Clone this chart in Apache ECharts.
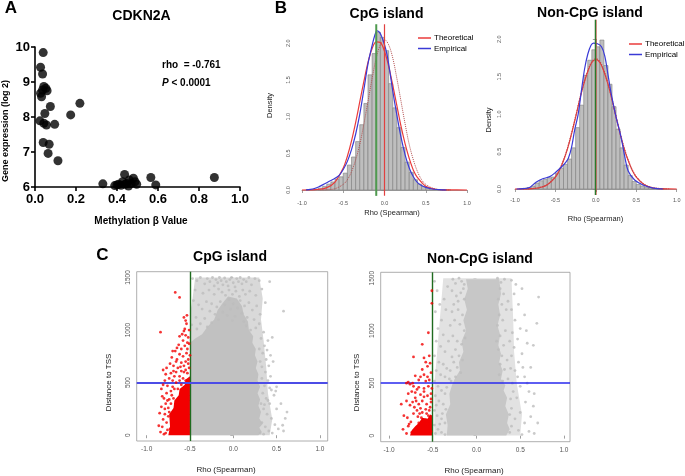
<!DOCTYPE html>
<html><head><meta charset="utf-8">
<script src="https://cdn.jsdelivr.net/npm/echarts@6/dist/echarts.min.js"></script>
<style>html,body{margin:0;padding:0;background:#fff}#c{width:685px;height:476px}</style>
</head><body><div id="c"></div>
<script>
// ---------------- DATA ----------------
// Panel A: CDKN2A methylation beta value vs gene expression (log2)
const aPoints = [
[0.040,9.84],[0.027,9.42],[0.037,9.23],[0.043,8.87],[0.053,8.82],[0.037,8.77],[0.059,8.75],[0.027,8.68],[0.032,8.58],
[0.075,8.30],[0.219,8.39],[0.174,8.06],[0.048,8.10],[0.024,7.89],[0.043,7.82],[0.056,7.77],[0.096,7.79],[0.040,7.27],
[0.069,7.22],[0.064,6.96],[0.112,6.75],
[0.331,6.09],[0.389,6.04],[0.400,6.06],[0.408,6.08],[0.420,6.05],[0.427,6.15],[0.437,6.36],[0.440,6.08],[0.448,6.10],
[0.456,6.03],[0.460,6.20],[0.469,6.10],[0.480,6.25],[0.488,6.15],[0.496,6.08],[0.565,6.27],[0.589,6.06],[0.875,6.27]];
const aRho = '-0.761';
const aP = '0.0001';

// Panel B: histogram bins (left edges) and densities
const binWidth = 0.05;
const histBins = [-1.00,-0.95,-0.90,-0.85,-0.80,-0.75,-0.70,-0.65,-0.60,-0.55,-0.50,-0.45,-0.40,-0.35,-0.30,-0.25,-0.20,-0.15,-0.10,-0.05,
0.00,0.05,0.10,0.15,0.20,0.25,0.30,0.35,0.40,0.45,0.50,0.55,0.60,0.65,0.70,0.75,0.80,0.85,0.90,0.95];
const cpgHist = [0,0.003,0.006,0.012,0.025,0.05,0.08,0.11,0.15,0.18,0.23,0.34,0.45,0.66,0.89,1.18,1.57,1.86,2.15,2.08,
1.90,1.45,1.12,0.85,0.58,0.38,0.24,0.14,0.08,0.05,0.03,0.02,0.01,0.006,0.003,0.002,0,0,0,0];
const nonCpgHist = [0,0.003,0.01,0.02,0.04,0.08,0.11,0.13,0.15,0.16,0.21,0.28,0.33,0.40,0.55,0.82,1.12,1.52,1.72,1.86,
1.90,1.99,1.65,1.40,1.10,0.80,0.55,0.32,0.18,0.10,0.06,0.04,0.025,0.015,0.008,0.004,0.002,0,0,0];

const cpgTheoretical = [[-1,0],[-0.9,0.002],[-0.8,0.008],[-0.7,0.032],[-0.6,0.108],[-0.5,0.30],[-0.45,0.46],[-0.4,0.67],[-0.35,0.92],
[-0.3,1.20],[-0.25,1.48],[-0.2,1.74],[-0.15,1.93],[-0.1,2.02],[-0.05,2.01],[0,1.89],[0.05,1.69],[0.1,1.43],[0.15,1.15],[0.2,0.87],
[0.25,0.63],[0.3,0.43],[0.35,0.27],[0.4,0.17],[0.5,0.05],[0.6,0.014],[0.7,0.003],[0.8,0.001],[1,0]];
const cpgEmpirical = [[-0.95,0.002],[-0.9,0.008],[-0.85,0.02],[-0.8,0.04],[-0.75,0.07],[-0.7,0.1],[-0.65,0.13],[-0.6,0.16],[-0.55,0.2],
[-0.5,0.28],[-0.45,0.39],[-0.4,0.55],[-0.35,0.76],[-0.3,1.03],[-0.25,1.37],[-0.2,1.72],[-0.15,1.97],[-0.12,2.1],[-0.09,2.17],[-0.06,2.15],
[-0.03,2.08],[0,1.98],[0.03,1.85],[0.06,1.65],[0.1,1.35],[0.15,1.02],[0.2,0.72],[0.25,0.48],[0.3,0.3],[0.35,0.18],[0.4,0.1],[0.45,0.06],
[0.5,0.035],[0.55,0.02],[0.6,0.01],[0.7,0.003],[0.75,0]];
const cpgNull = [[-0.8,0],[-0.7,0.003],[-0.6,0.018],[-0.5,0.077],[-0.45,0.14],[-0.4,0.25],[-0.35,0.41],[-0.3,0.62],[-0.25,0.9],[-0.2,1.21],
[-0.15,1.52],[-0.1,1.8],[-0.05,1.98],[0,2.05],[0.05,1.98],[0.1,1.8],[0.15,1.52],[0.2,1.21],[0.25,0.9],[0.3,0.62],[0.35,0.41],[0.4,0.25],
[0.45,0.14],[0.5,0.077],[0.6,0.018],[0.7,0.003],[0.8,0]];
const nonCpgTheoretical = [[-1,0],[-0.9,0.001],[-0.8,0.004],[-0.7,0.017],[-0.6,0.058],[-0.5,0.16],[-0.45,0.25],[-0.4,0.38],[-0.35,0.54],
[-0.3,0.74],[-0.25,0.96],[-0.2,1.19],[-0.15,1.4],[-0.1,1.57],[-0.05,1.69],[0,1.73],[0.05,1.69],[0.1,1.57],[0.15,1.4],[0.2,1.19],
[0.25,0.96],[0.3,0.74],[0.35,0.54],[0.4,0.38],[0.45,0.25],[0.5,0.16],[0.6,0.058],[0.7,0.017],[0.8,0.004],[0.9,0.001],[1,0]];
const nonCpgNull = [[-0.9,0.001],[-0.8,0.005],[-0.7,0.018],[-0.6,0.06],[-0.5,0.165],[-0.45,0.255],[-0.4,0.385],[-0.35,0.55],[-0.3,0.75],
[-0.25,0.97],[-0.2,1.2],[-0.15,1.41],[-0.1,1.58],[-0.05,1.7],[0,1.74],[0.05,1.7],[0.1,1.58],[0.15,1.41],[0.2,1.2],[0.25,0.97],
[0.3,0.75],[0.35,0.55],[0.4,0.385],[0.45,0.255],[0.5,0.165],[0.6,0.06],[0.7,0.018],[0.8,0.005],[0.9,0.001]];
const nonCpgEmpirical = [[-0.98,0],[-0.9,0.005],[-0.82,0.02],[-0.74,0.09],[-0.65,0.14],[-0.57,0.165],[-0.49,0.23],[-0.42,0.3],[-0.37,0.36],
[-0.34,0.41],[-0.3,0.56],[-0.26,0.8],[-0.22,0.99],[-0.18,1.3],[-0.14,1.6],[-0.1,1.8],[-0.06,1.92],[-0.03,1.95],[0.02,1.94],[0.07,1.9],
[0.11,1.78],[0.15,1.53],[0.19,1.27],[0.25,0.96],[0.31,0.7],[0.36,0.42],[0.4,0.24],[0.48,0.12],[0.59,0.05],[0.71,0.012],[0.83,0]];
const cpgObservedRho = -0.1, cpgNullRho = 0.0;
const nonCpgObservedRho = -0.005, nonCpgNullRho = 0.0;

// Panel C: rho vs distance to TSS (dense clouds as read envelopes + individual points)
const rhoCutoff = -0.5, distCutoff = 500;
const cpgGreyOuter = [[-0.5,0],[0.42,0],[0.45,150],[0.4,400],[0.38,650],[0.35,900],[0.32,1100],[0.34,1300],[0.3,1500],
[-0.44,1500],[-0.47,1300],[-0.5,1150]];
const cpgGreyCore = [[-0.5,0],[0.29,0],[0.33,30],[0.3,70],[0.34,110],[0.3,160],[0.32,220],[0.29,280],[0.31,340],[0.28,400],
[0.31,460],[0.28,520],[0.29,580],[0.26,640],[0.28,700],[0.25,760],[0.26,820],[0.22,880],[0.23,940],[0.18,1000],[0.17,1080],
[0.12,1150],[0.1,1230],[0.04,1300],[-0.06,1320],[-0.12,1260],[-0.18,1190],[-0.22,1100],[-0.3,1030],[-0.36,960],[-0.44,920],[-0.5,880]];
const cpgGreyPts = [
[-0.47,1490],[-0.42,1470],[-0.38,1500],[-0.33,1440],[-0.3,1490],[-0.27,1460],[-0.24,1500],[-0.22,1420],[-0.2,1480],[-0.18,1450],
[-0.16,1500],[-0.14,1470],[-0.12,1430],[-0.1,1495],[-0.08,1460],[-0.06,1420],[-0.04,1480],[-0.02,1500],[0.0,1450],[0.02,1410],
[0.04,1490],[0.06,1460],[0.08,1500],[0.1,1440],[0.12,1480],[0.15,1460],[0.18,1500],[0.21,1430],[0.25,1490],[0.3,1470],[0.42,1460],
[-0.44,1380],[-0.35,1350],[-0.28,1380],[-0.22,1340],[-0.17,1390],[-0.13,1360],[-0.09,1330],[-0.05,1380],[-0.01,1340],[0.03,1370],
[0.07,1320],[0.11,1380],[0.14,1340],[0.19,1370],[0.26,1330],[0.33,1390],
[-0.46,1280],[-0.4,1240],[-0.36,1200],[-0.31,1270],[-0.27,1180],[-0.25,1250],[-0.21,1150],[-0.19,1220],[-0.15,1270],[-0.12,1170],
[-0.1,1240],[-0.07,1140],[-0.05,1290],[-0.03,1200],[0.0,1250],[0.02,1130],[0.05,1210],[0.08,1280],[0.1,1160],[0.13,1230],[0.16,1120],
[0.18,1260],[0.22,1190],[0.27,1230],[0.31,1150],[0.37,1260],[0.58,1180],[-0.43,1120],[-0.33,1110],[-0.17,1100],[-0.01,1090],
[0.12,1080],[0.24,1100],[-0.48,1050],[-0.42,1010],[-0.38,1060],[-0.3,1030],[-0.25,1070],[0.15,1040],[0.2,1000],[0.26,1020],
[0.3,1060],[0.35,980],
[0.32,920],[0.36,850],[0.4,900],[0.45,930],[0.34,780],[0.38,720],[0.43,760],[0.33,650],[0.37,600],[0.41,660],[0.46,700],[0.33,540],
[0.36,470],[0.4,520],[0.44,430],[0.34,400],[0.38,350],[0.42,300],[0.35,250],[0.39,200],[0.44,160],[0.5,250],[0.55,300],[0.48,100],
[0.52,60],[0.58,40],[0.62,220],[0.33,120],[0.37,80],[0.41,40],[0.45,20],[0.31,20],[0.35,10],[0.4,330],[0.47,380],[0.36,290],
[0.43,560],[0.39,810],[0.5,460],[0.42,450],[0.6,160],[0.57,95],[0.49,420],[0.32,300],[0.31,700],[0.3,820]];
const cpgRedCore = [[-0.5,0],[-0.75,0],[-0.73,80],[-0.74,200],[-0.69,260],[-0.68,330],[-0.63,380],[-0.62,440],[-0.56,480],
[-0.55,530],[-0.5,560]];
const cpgRedPts = [
[-0.84,30],[-0.82,80],[-0.8,10],[-0.81,150],[-0.79,200],[-0.83,270],[-0.78,300],[-0.76,50],[-0.77,120],[-0.8,350],[-0.77,400],
[-0.83,440],[-0.81,480],[-0.79,520],[-0.75,180],[-0.75,260],[-0.74,340],[-0.72,420],[-0.7,460],[-0.76,470],[-0.74,540],[-0.7,520],
[-0.68,560],[-0.72,590],[-0.66,600],[-0.64,640],[-0.69,660],[-0.62,560],[-0.6,610],[-0.57,660],[-0.55,700],[-0.6,690],[-0.65,720],
[-0.71,740],[-0.62,770],[-0.58,750],[-0.54,780],[-0.52,720],[-0.67,800],[-0.6,820],[-0.56,850],[-0.53,880],[-0.63,860],[-0.58,900],
[-0.52,930],[-0.55,950],[-0.62,940],[-0.84,980],[-0.57,990],[-0.51,1000],[-0.54,1060],[-0.55,1090],[-0.535,1140],[-0.57,1120],
[-0.62,1310],[-0.67,1358],[-0.56,1010],[-0.66,700],[-0.69,610],[-0.78,580],[-0.81,620],[-0.77,640],[-0.73,680],[-0.7,800],
[-0.65,830],[-0.59,960],[-0.53,820],[-0.51,640],[-0.86,90],[-0.85,210],[-0.82,370],[-0.78,20],[-0.73,60],[-0.79,250],[-0.76,330],
[-0.71,380],[-0.68,440],[-0.66,500],[-0.62,520],[-0.58,540],[-0.55,620],[-0.52,680],[-0.5,760],[-0.51,870],
[-0.6,480],[-0.55,520],[-0.64,440],[-0.53,590],[-0.57,600],[-0.61,650],[-0.74,220],[-0.72,300],[-0.69,350]];
const nonCpgGreyOuter = [[-0.48,0],[0.5,0],[0.52,200],[0.46,500],[0.43,800],[0.42,1100],[0.4,1500],[-0.38,1500],[-0.42,1100],
[-0.45,800],[-0.48,500]];
const nonCpgGreyCore = [[-0.34,0],[0.34,0],[0.38,60],[0.35,120],[0.37,200],[0.33,280],[0.35,360],[0.31,430],[0.33,480],[0.28,540],
[0.3,620],[0.26,700],[0.28,780],[0.25,860],[0.27,960],[0.24,1050],[0.27,1150],[0.25,1250],[0.28,1350],[0.26,1490],[-0.12,1490],
[-0.1,1400],[-0.14,1300],[-0.11,1200],[-0.15,1100],[-0.12,1000],[-0.17,900],[-0.15,800],[-0.2,700],[-0.19,620],[-0.25,540],
[-0.28,480],[-0.31,400],[-0.3,300],[-0.35,200],[-0.33,100]];
const nonCpgGreyPts = [
[-0.48,1470],[-0.45,1380],[-0.42,1250],[-0.47,1180],[-0.4,1100],[-0.44,1020],[-0.38,960],[-0.46,900],[-0.41,850],[-0.36,800],
[-0.48,760],[-0.43,700],[-0.38,680],[-0.34,640],[-0.46,620],[-0.41,580],[-0.36,560],[-0.31,540],[-0.48,520],[-0.44,470],[-0.4,430],
[-0.36,400],[-0.47,380],[-0.43,330],[-0.38,300],[-0.35,250],[-0.48,240],[-0.45,190],[-0.4,160],[-0.36,120],[-0.48,100],[-0.44,60],
[-0.4,30],[-0.36,10],[-0.47,20],[-0.42,110],[-0.39,210],[-0.46,290],[-0.34,460],[-0.37,1300],[-0.33,1420],[-0.35,1200],[-0.3,1050],
[-0.32,900],[-0.28,750],[-0.3,620],
[-0.27,1490],[-0.24,1450],[-0.2,1500],[-0.17,1470],[-0.14,1440],[-0.28,1380],[-0.23,1330],[-0.18,1360],[-0.14,1300],[-0.26,1250],
[-0.21,1200],[-0.16,1150],[-0.25,1100],[-0.19,1060],[-0.14,1000],[-0.27,950],[-0.22,900],[-0.17,870],[-0.24,820],[-0.2,760],
[-0.26,700],[-0.22,650],[-0.18,600],[-0.24,560],[-0.29,520],[-0.16,720],[-0.13,930],[-0.21,1280],[-0.28,1180],[-0.15,1400],
[0.24,1500],[0.28,1460],[0.32,1490],[0.27,1400],[0.31,1350],[0.25,1300],[0.29,1250],[0.34,1200],[0.26,1150],[0.3,1100],[0.24,1050],
[0.33,1000],[0.27,950],[0.23,900],[0.31,860],[0.25,820],[0.29,760],[0.35,720],[0.27,680],[0.32,630],[0.26,580],[0.36,540],[0.3,520],
[0.38,900],[0.36,1280],
[0.4,1480],[0.45,1440],[0.52,1400],[0.71,1320],[0.43,1350],[0.48,1250],[0.4,1200],[0.55,1150],[0.44,1100],[0.69,1070],[0.5,1020],
[0.41,980],[0.47,920],[0.58,880],[0.43,840],[0.52,780],[0.65,860],[0.4,760],[0.48,700],[0.62,650],[0.44,620],[0.55,560],[0.41,500],
[0.5,470],[0.6,420],[0.42,420],[0.46,360],[0.56,320],[0.65,280],[0.4,260],[0.5,220],[0.62,180],[0.44,160],[0.55,120],[0.7,120],
[0.4,90],[0.48,50],[0.6,40],[0.66,20],[0.52,10],[0.38,30],[0.38,200],[0.39,350],[0.58,500],[0.47,560],[0.53,650],[0.39,640],
[0.66,400],[0.57,1000]];
const nonCpgRedCore = [[-0.5,0],[-0.76,0],[-0.74,50],[-0.7,90],[-0.66,120],[-0.62,170],[-0.56,160],[-0.53,200],[-0.5,190]];
const nonCpgRedPts = [
[-0.8,20],[-0.78,90],[-0.75,130],[-0.79,170],[-0.72,210],[-0.68,240],[-0.64,260],[-0.58,250],[-0.53,270],[-0.86,300],[-0.8,330],
[-0.76,290],[-0.73,320],[-0.7,360],[-0.66,300],[-0.62,330],[-0.57,300],[-0.52,320],[-0.78,400],[-0.74,420],[-0.7,410],[-0.68,440],
[-0.64,390],[-0.6,420],[-0.56,380],[-0.52,400],[-0.72,470],[-0.66,460],[-0.6,450],[-0.55,470],[-0.51,450],[-0.8,500],[-0.78,510],
[-0.76,490],[-0.73,500],[-0.7,570],[-0.64,560],[-0.6,580],[-0.56,560],[-0.52,600],[-0.66,530],[-0.58,520],[-0.54,530],[-0.62,630],
[-0.56,660],[-0.53,690],[-0.6,740],[-0.72,750],[-0.58,700],[-0.54,760],[-0.62,870],[-0.55,980],[-0.51,1260],[-0.51,1380],
[-0.83,190],[-0.84,60],[-0.66,120],[-0.61,60],[-0.56,110],[-0.52,40],[-0.63,170],[-0.55,190],[-0.69,40],[-0.74,30],[-0.58,150],
[-0.65,210],[-0.71,270],[-0.6,370],[-0.69,330],[-0.52,350],[-0.54,240],[-0.62,220],[-0.57,210],[-0.67,180],[-0.77,110]];

// ---------------- CHART ----------------
const FONT = '"Liberation Sans", Arial, Helvetica, sans-serif';
const chart = echarts.init(document.getElementById('c'), null, {width:685, height:476});

// R plot-region vertical extent for the abline verticals (density units)
const bRegion = [-0.08, 2.26];

function histSeries(idx, heights){
  return {type:'custom', xAxisIndex:idx, yAxisIndex:idx, clip:false, silent:true, z:1,
    data: histBins.map((b,i)=>[b, heights[i]]), encode:{x:0,y:1},
    renderItem(params, api){
      const x0 = api.value(0), h = api.value(1);
      if (h <= 0) return null;
      const p0 = api.coord([x0, 0]), p1 = api.coord([x0 + binWidth, h]);
      return {type:'rect', shape:{x:p0[0], y:p1[1], width:p1[0]-p0[0], height:p0[1]-p1[1]},
        style:{fill:'#bebebe', stroke:'#7d7d7d', lineWidth:0.6}};
    }};
}
function curve(idx, data, color, width, name, type){
  return {type:'line', name, xAxisIndex:idx, yAxisIndex:idx, data, showSymbol:false, symbol:'none', smooth:0.35,
    clip:false, silent:true, z:3, itemStyle:{color}, lineStyle:{color, width, type:type||'solid'}};
}
function vline(idx, x, color, width, z){
  return {type:'line', xAxisIndex:idx, yAxisIndex:idx, data:[[x,bRegion[0]],[x,bRegion[1]]], showSymbol:false, symbol:'none',
    clip:false, silent:true, z, lineStyle:{color, width}};
}
function polygonSeries(idx, verts, fill, z){
  const pts = verts.map(v=>[v[0], v[1]]);
  return {type:'custom', xAxisIndex:idx, yAxisIndex:idx, clip:true, silent:true, z,
    data:[[pts[0][0], pts[0][1]]], encode:{x:0,y:1},
    renderItem(params, api){
      return {type:'polygon', shape:{points: pts.map(v=>api.coord(v))}, style:{fill}};
    }};
}
function dots(idx, data, color, z, extra){
  return Object.assign({type:'scatter', xAxisIndex:idx, yAxisIndex:idx, data, symbolSize:2.8, silent:true, z,
    itemStyle:{color}}, extra||{});
}
function bX(gi, offset){
  return {gridIndex:gi, type:'value', min:-1, max:1, interval:0.5, offset,
    axisLine:{lineStyle:{color:'#888', width:0.8}}, axisTick:{length:3, lineStyle:{color:'#888', width:0.8}},
    axisLabel:{fontSize:5.5, color:'#555', margin:3, fontFamily:FONT, formatter:v=>v.toFixed(1)}, splitLine:{show:false}};
}
function bY(gi, offset){
  return {gridIndex:gi, type:'value', min:0, max:2, interval:0.5, offset,
    axisLine:{show:true, lineStyle:{color:'#888', width:0.8}}, axisTick:{show:true, length:3, lineStyle:{color:'#888', width:0.8}},
    axisLabel:{fontSize:5.5, color:'#555', margin:3, rotate:90, fontFamily:FONT, formatter:v=>v.toFixed(1)}, splitLine:{show:false}};
}
const cXTicks = [-1,-0.5,0,0.5,1], cYTicks = [0,500,1000,1500];
function cX(gi, min, max){
  return {gridIndex:gi, type:'value', min, max, axisLine:{show:false},
    axisTick:{show:true, customValues:cXTicks, length:3, lineStyle:{color:'#888', width:0.8}},
    axisLabel:{customValues:cXTicks, fontSize:6.5, color:'#555', margin:5, fontFamily:FONT, formatter:v=>v.toFixed(1)},
    splitLine:{show:false}};
}
function cY(gi, min, max){
  return {gridIndex:gi, type:'value', min, max, axisLine:{show:false},
    axisTick:{show:true, customValues:cYTicks, length:3, lineStyle:{color:'#888', width:0.8}},
    axisLabel:{customValues:cYTicks, fontSize:6.5, color:'#555', margin:5, rotate:90, fontFamily:FONT, formatter:v=>String(v)},
    splitLine:{show:false}};
}
function txt(text, x, y, size, o){
  o = o || {};
  return {type:'text', x, y, rotation:o.rot||0, z:100, silent:true,
    style:{text, fontFamily:FONT, fontSize:size, fontWeight:o.bold?'bold':'normal', fill:o.color||'#000',
      align:o.align||'center', verticalAlign:'middle', rich:o.rich}};
}
const R90 = Math.PI/2;
const cMarkLines = (blue, bw) => ({silent:true, symbol:'none', label:{show:false}, animation:false,
  data:[{xAxis:rhoCutoff, lineStyle:{color:'#1f6b1f', width:1.4, type:'solid'}},
        {yAxis:distCutoff, lineStyle:{color:blue, width:bw, type:'solid'}}]});

const option = {
  animation:false,
  backgroundColor:'#fff',
  grid:[
    {left:35, top:47, width:205, height:140},
    {left:302, top:43.3, width:165, height:146.7},
    {left:515, top:39.3, width:161.7, height:149.7},
    {left:136.7, top:271.7, width:191, height:169.3, show:true, borderColor:'#999', borderWidth:0.8, backgroundColor:'#fff'},
    {left:380.7, top:272.3, width:189.3, height:169.4, show:true, borderColor:'#999', borderWidth:0.8, backgroundColor:'#fff'}
  ],
  xAxis:[
    {gridIndex:0, type:'value', min:0, max:1, interval:0.2,
      axisLine:{lineStyle:{color:'#000', width:1.6}}, axisTick:{length:4, lineStyle:{color:'#000', width:1.6}},
      axisLabel:{fontSize:13, fontWeight:'bold', color:'#000', margin:6, fontFamily:FONT, formatter:v=>v.toFixed(1)},
      splitLine:{show:false}},
    bX(1, 7), bX(2, 5),
    cX(3, -1.115, 1.09), cX(4, -1.095, 1.069)
  ],
  yAxis:[
    {gridIndex:0, type:'value', min:6, max:10, interval:1,
      axisLine:{show:true, lineStyle:{color:'#000', width:1.6}}, axisTick:{show:true, length:4, lineStyle:{color:'#000', width:1.6}},
      axisLabel:{fontSize:13, fontWeight:'bold', color:'#000', margin:5, fontFamily:FONT}, splitLine:{show:false}},
    bY(1, 8), bY(2, 10),
    cY(3, -55, 1555), cY(4, -58, 1556)
  ],
  legend:[
    {data:['Theoretical','Empirical'], orient:'vertical', left:413, top:29, itemWidth:13, itemHeight:1.5, itemGap:2.5,
      icon:'rect', textStyle:{fontSize:8, fontFamily:FONT, color:'#000', padding:[0,0,0,-2]}, selectedMode:false},
    {data:['Theoretical','Empirical'], orient:'vertical', left:624, top:35, itemWidth:13, itemHeight:1.5, itemGap:2.5,
      icon:'rect', textStyle:{fontSize:8, fontFamily:FONT, color:'#000', padding:[0,0,0,-2]}, selectedMode:false}
  ],
  series:[
    // Panel A
    {type:'scatter', xAxisIndex:0, yAxisIndex:0, data:aPoints, symbolSize:9, clip:false, silent:true,
      itemStyle:{color:'#000'}},
    // Panel B - CpG
    histSeries(1, cpgHist),
    curve(1, cpgNull, '#b55050', 1, undefined, 'dotted'),
    curve(1, cpgTheoretical, '#ea3b3b', 1.2, 'Theoretical'),
    curve(1, cpgEmpirical, '#3a3ad6', 1.2, 'Empirical'),
    vline(1, cpgNullRho, '#e04040', 1.2, 5),
    vline(1, cpgObservedRho, '#4f9a4f', 2, 6),
    // Panel B - non-CpG
    histSeries(2, nonCpgHist),
    curve(2, nonCpgTheoretical, '#ea3b3b', 1.2, 'Theoretical'),
    curve(2, nonCpgNull, '#c04848', 1.2, undefined, 'dotted'),
    curve(2, nonCpgEmpirical, '#3a3ad6', 1.2, 'Empirical'),
    vline(2, nonCpgNullRho, '#e04040', 1.4, 5),
    vline(2, nonCpgObservedRho, '#2b7a2b', 1.4, 6),
    // Panel C - CpG
    polygonSeries(3, cpgGreyOuter, '#d9d9d9', 1),
    polygonSeries(3, cpgGreyCore, '#c1c1c1', 2),
    dots(3, cpgGreyPts, '#bdbdbd', 3),
    polygonSeries(3, cpgRedCore, '#f20000', 4),
    dots(3, cpgRedPts, '#f20000', 5, {markLine:cMarkLines('#4c4ce6', 1.8)}),
    // Panel C - non-CpG
    polygonSeries(4, nonCpgGreyOuter, '#e2e2e2', 1),
    polygonSeries(4, nonCpgGreyCore, '#c7c7c7', 2),
    dots(4, nonCpgGreyPts, '#bdbdbd', 3),
    polygonSeries(4, nonCpgRedCore, '#f20000', 4),
    dots(4, nonCpgRedPts, '#f20000', 5, {markLine:cMarkLines('#2828ee', 1.5)})
  ],
  graphic:[
    txt('A', 11, 8, 17, {bold:true}),
    txt('CDKN2A', 141.5, 16, 14, {bold:true}),
    txt('rho  = ' + aRho, 162, 65.5, 10, {bold:true, align:'left'}),
    txt('{i|P} < ' + aP, 162, 83, 10, {bold:true, align:'left',
      rich:{i:{fontStyle:'italic', fontWeight:'bold', fontSize:10, fontFamily:FONT}}}),
    txt('Gene expression (log 2)', 6, 131, 9, {bold:true, rot:R90}),
    txt('Methylation \u03b2 Value', 141, 221, 10, {bold:true}),
    txt('B', 281, 8, 17, {bold:true}),
    txt('CpG island', 386.5, 14.5, 14, {bold:true}),
    txt('Non-CpG island', 590, 13.5, 14, {bold:true}),
    txt('Density', 270, 105.5, 7.5, {rot:R90, color:'#222'}),
    txt('Density', 488.5, 120, 7.5, {rot:R90, color:'#222'}),
    txt('Rho (Spearman)', 392, 212.5, 7.5, {color:'#222'}),
    txt('Rho (Spearman)', 595.5, 218.5, 7.5, {color:'#222'}),
    txt('C', 102.5, 255.5, 17, {bold:true}),
    txt('CpG island', 230, 257.5, 14, {bold:true}),
    txt('Non-CpG island', 480, 259, 14, {bold:true}),
    txt('Distance to TSS', 108.5, 382.5, 8, {rot:R90, color:'#222'}),
    txt('Distance to TSS', 356.5, 382.5, 8, {rot:R90, color:'#222'}),
    txt('Rho (Spearman)', 226, 469.5, 8, {color:'#222'}),
    txt('Rho (Spearman)', 474, 470.5, 8, {color:'#222'})
  ]
};
chart.setOption(option);
</script>
</body></html>
